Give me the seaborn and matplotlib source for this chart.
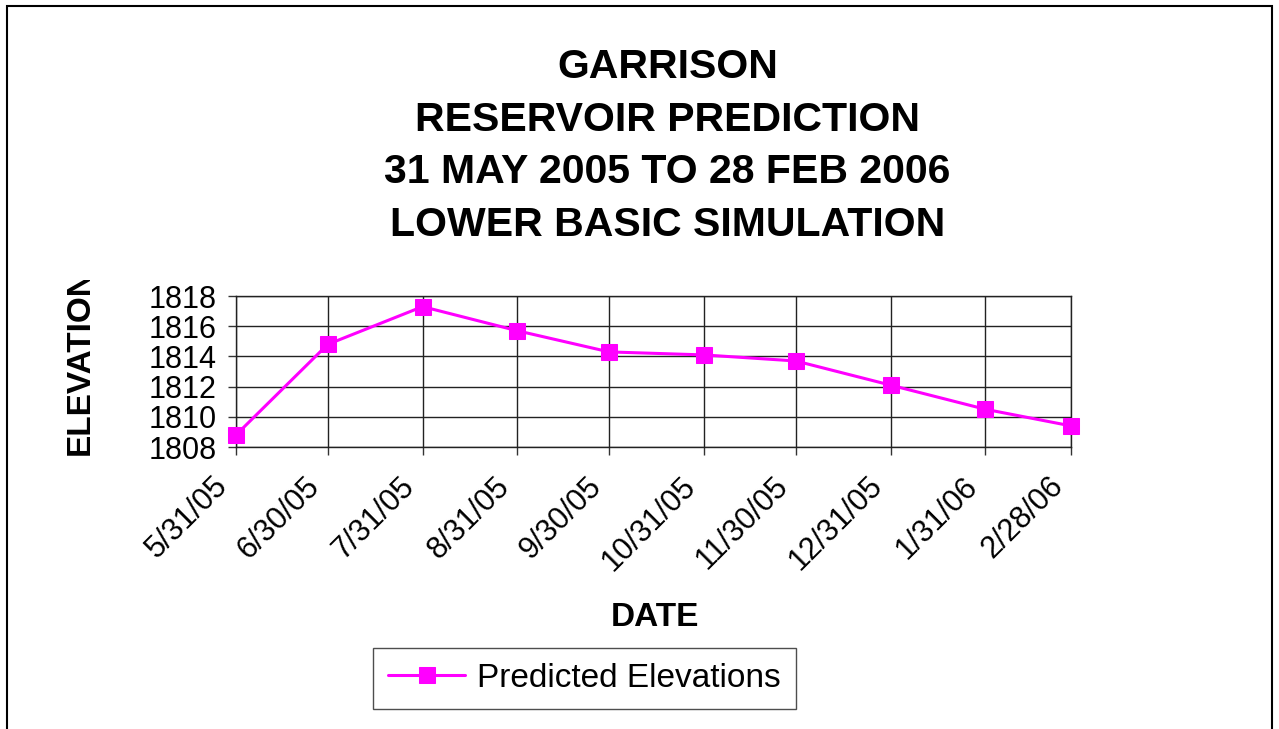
import pandas as pd
import matplotlib
matplotlib.use('Agg')
import matplotlib.pyplot as plt
from matplotlib.patches import Rectangle
from matplotlib.transforms import ScaledTranslation
import seaborn as sns

# Данные
dates = ['2005-05-31', '2005-06-30', '2005-07-31', '2005-08-31', '2005-09-30',
         '2005-10-31', '2005-11-30', '2005-12-31', '2006-01-31', '2006-02-28']
tick_labels = ['5/31/05', '6/30/05', '7/31/05', '8/31/05', '9/30/05',
               '10/31/05', '11/30/05', '12/31/05', '1/31/06', '2/28/06']
elevations = [1808.8, 1814.8, 1817.3, 1815.7, 1814.3,
              1814.1, 1813.7, 1812.1, 1810.5, 1809.4]
y_ticks = [1808, 1810, 1812, 1814, 1816, 1818]

sns.set_theme(style='white')
plt.rcParams['font.family'] = ['Liberation Sans', 'DejaVu Sans']
plt.rcParams['text.color'] = 'black'

df = pd.DataFrame({'date': pd.to_datetime(dates), 'elev': elevations})

fig = plt.figure(figsize=(12.79, 7.29), dpi=100)
ax = fig.add_axes([0.1845, 0.3868, 0.6529, 0.2071])

sns.lineplot(data=df, x='date', y='elev', ax=ax, color='#ff00ff', linewidth=2.2,
             marker='s', markersize=11.5, markeredgecolor='#ff00ff',
             label='Predicted Elevations', clip_on=False, zorder=5)

ax.set_xlim(df['date'].iloc[0], df['date'].iloc[-1])
ax.set_ylim(y_ticks[0], y_ticks[-1])
ax.set_yticks(y_ticks)
ax.set_xticks(df['date'])
ax.set_xticklabels(tick_labels, rotation=45, ha='right', va='center',
                   rotation_mode='anchor')
ax.tick_params(axis='both', direction='out', length=6, width=1, color='#333333',
               labelsize=22, labelcolor='black', bottom=True, left=True)
ax.tick_params(axis='x', pad=0)
ax.tick_params(axis='y', pad=8)
# сдвиг подписей дат, как в исходнике
shift = ScaledTranslation(-9 / 72, -19 / 72, fig.dpi_scale_trans)
for lbl in ax.get_xticklabels():
    lbl.set_transform(lbl.get_transform() + shift)
ax.grid(True, color='#222222', linewidth=1)
for s in ax.spines.values():
    s.set_color('#222222')
    s.set_linewidth(1)

ax.set_xlabel('')
ax.set_ylabel('')
fig.text(655 / 1279, 1 - 618 / 729, 'DATE', ha='center', va='center',
         fontsize=24, fontweight='bold', color='black')
ylab = fig.text(80 / 1279, 1 - 455 / 729, 'ELEVATION', ha='center', va='bottom',
                rotation=90, fontsize=24, fontweight='bold', color='black')
clip = Rectangle((0, 0), 1, 1 - 280 / 729, transform=fig.transFigure,
                 facecolor='none', edgecolor='none')
fig.add_artist(clip)
ylab.set_clip_path(clip)

fig.text(667.5 / 1279, 1 - 146 / 729,
         'GARRISON\nRESERVOIR PREDICTION\n31 MAY 2005 TO 28 FEB 2006\nLOWER BASIC SIMULATION',
         ha='center', va='center', fontsize=29.5, fontweight='bold',
         linespacing=1.48, color='black')

leg = ax.legend(loc='center', bbox_to_anchor=(584.5 / 1279, 1 - 678.5 / 729),
                bbox_transform=fig.transFigure, fontsize=24, frameon=True,
                fancybox=False, handlelength=2.3, handletextpad=0.35,
                borderpad=0.45, borderaxespad=0)
leg.get_frame().set_edgecolor('#222222')
leg.get_frame().set_linewidth(1)
for t in leg.get_texts():
    t.set_color('black')

fig.add_artist(Rectangle((7 / 1279, -0.05), (1272 - 7) / 1279, 1.05 - 6 / 729,
                         transform=fig.transFigure, fill=False,
                         edgecolor='black', linewidth=1.5))

fig.savefig('out.png', dpi=100)
plt.close(fig)
